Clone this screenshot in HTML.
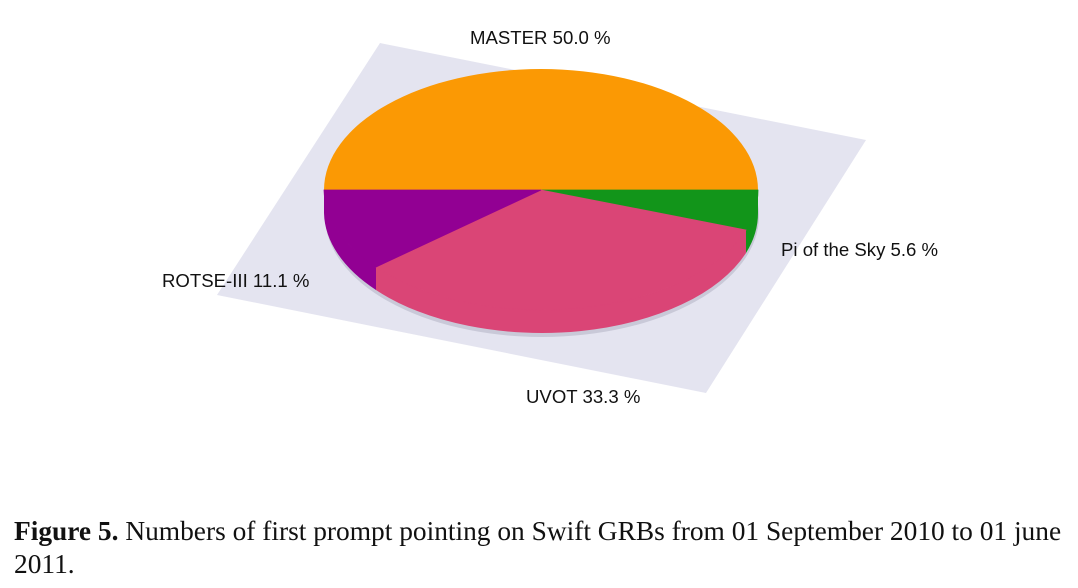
<!DOCTYPE html>
<html><head><meta charset="utf-8"><style>
html,body{margin:0;padding:0;background:#fff;width:1078px;height:588px;overflow:hidden}
.cap{position:absolute;left:14px;font-family:"Liberation Serif",serif;font-size:27.4px;color:#111;white-space:nowrap}
</style></head><body>
<svg width="1078" height="588" style="position:absolute;left:0;top:0" font-family="Liberation Sans, sans-serif" font-size="18.6">
<polygon points="380,43 866,140 706,393 217,295" fill="#e4e4f0"/>
<ellipse cx="542" cy="216" rx="217" ry="121" fill="#c9c9d8"/>
<path d="M758,190 A217,121 0 0 1 746,230 L746,253 A217,121 0 0 0 758,213 Z" fill="#12951a"/>
<path d="M376,267 A217,121 0 0 1 324,190 L324,213 A217,121 0 0 0 376,290 Z" fill="#920093"/>
<path d="M746,230 A217,121 0 0 1 376,267 L376,290 A217,121 0 0 0 746,253 Z" fill="#da4576"/>
<path d="M541,190 L324,190 A217,121 0 0 1 758,190 Z" fill="#fb9904"/>
<path d="M541,190 L758,190 A217,121 0 0 1 746,230 Z" fill="#12951a" stroke="#12951a" stroke-width="0.8"/>
<path d="M541,190 L746,230 A217,121 0 0 1 376,267 Z" fill="#da4576" stroke="#da4576" stroke-width="0.8"/>
<path d="M541,190 L376,267 A217,121 0 0 1 324,190 Z" fill="#920093" stroke="#920093" stroke-width="0.8"/>
<text x="470" y="44" fill="#111">MASTER 50.0 %</text>
<text x="781" y="256" fill="#111">Pi of the Sky 5.6 %</text>
<text x="162" y="287" fill="#111">ROTSE-III 11.1 %</text>
<text x="526" y="403" fill="#111">UVOT 33.3 %</text>
</svg>
<div class="cap" style="top:516px"><b>Figure 5.</b> Numbers of first prompt pointing on Swift GRBs from 01 September 2010 to 01 june</div>
<div class="cap" style="top:549px">2011.</div>
</body></html>
